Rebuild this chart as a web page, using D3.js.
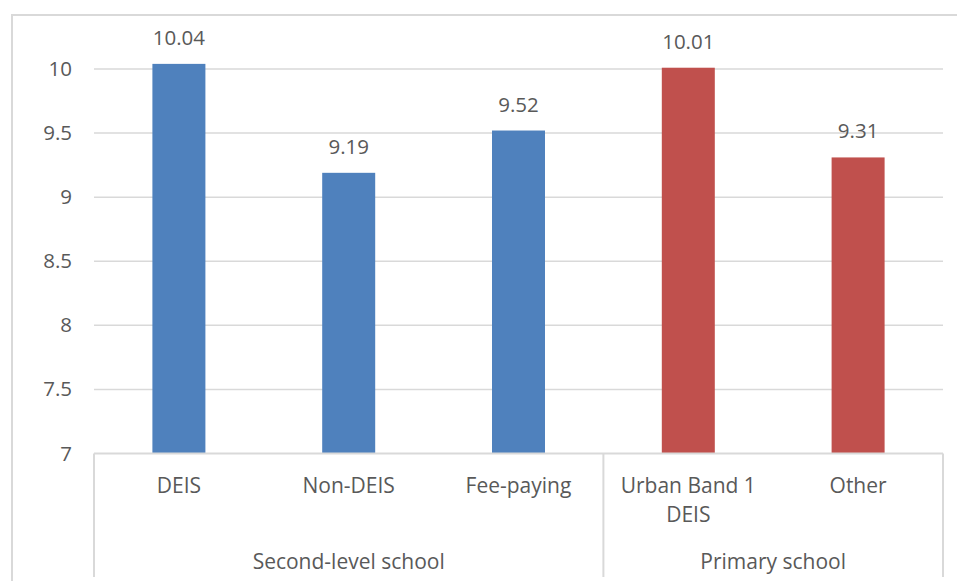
<!DOCTYPE html>
<html>
<head>
<meta charset="utf-8">
<title>School bars</title>
<style>
  body { margin: 0; background: #fff; }
  text { font-family: "Open Sans", sans-serif; fill: #595959; }
</style>
</head>
<body>
<script src="https://cdn.jsdelivr.net/npm/d3@7/dist/d3.min.js"></script>
<script>
// chart values
const categories = ["DEIS", "Non-DEIS", "Fee-paying", "Urban Band 1\nDEIS", "Other"];
const groupOf = ["Second-level school", "Second-level school", "Second-level school", "Primary school", "Primary school"];
const values = [10.04, 9.19, 9.52, 10.01, 9.31];
const groups = ["Second-level school", "Primary school"];
const yTicks = [7, 7.5, 8, 8.5, 9, 9.5, 10];

const w = 957, h = 581;
const colors = {"Second-level school": "#4F81BD", "Primary school": "#C0504D"};

const svg = d3.select("body").append("svg")
  .attr("width", w)
  .attr("height", h);

// chart area border (cropped at right and bottom)
svg.append("path")
  .attr("d", "M12,581 V15 H957")
  .attr("fill", "none")
  .attr("stroke", "#D9D9D9")
  .attr("stroke-width", 2);

const left = 94, right = 943;
const x = d3.scaleBand()
  .domain(d3.range(categories.length))
  .range([left, right])
  .paddingInner(0)
  .paddingOuter(0);

const y = d3.scaleLinear()
  .domain([7, 10])
  .range([453.5, 69]);

// gridlines
svg.append("g")
  .selectAll("line")
  .data(yTicks.slice(1))
  .join("line")
  .attr("x1", left)
  .attr("x2", right)
  .attr("y1", d => y(d))
  .attr("y2", d => y(d))
  .attr("stroke", "#D9D9D9")
  .attr("stroke-width", 1.5);

// y tick labels
const yAxis = d3.axisLeft(y).tickValues(yTicks).tickSize(0).tickPadding(0).tickFormat(d3.format("~g"));
svg.append("g")
  .attr("transform", "translate(72,0)")
  .call(yAxis)
  .call(g => g.select(".domain").remove())
  .selectAll("text")
  .attr("font-size", 20.5)
  .attr("font-family", null)
  .attr("fill", "#595959");

// bars
const barW = 53;
svg.append("g")
  .selectAll("rect")
  .data(values)
  .join("rect")
  .attr("x", (d, i) => x(i) + x.bandwidth() / 2 - barW / 2)
  .attr("width", barW)
  .attr("y", d => y(d))
  .attr("height", d => y(7) - y(d))
  .attr("fill", (d, i) => colors[groupOf[i]]);

// data labels
svg.append("g")
  .selectAll("text")
  .data(values)
  .join("text")
  .attr("x", (d, i) => x(i) + x.bandwidth() / 2)
  .attr("y", d => y(d) - 19)
  .attr("text-anchor", "middle")
  .attr("font-size", 20.5)
  .text(d => d3.format(".2f")(d));

// category axis line + separators
svg.append("line")
  .attr("x1", left).attr("x2", right)
  .attr("y1", y(7)).attr("y2", y(7))
  .attr("stroke", "#D9D9D9").attr("stroke-width", 2);

const sepX = [left, x(3), right];
svg.append("g")
  .selectAll("line")
  .data(sepX)
  .join("line")
  .attr("x1", d => d).attr("x2", d => d)
  .attr("y1", y(7)).attr("y2", 577)
  .attr("stroke", "#D9D9D9").attr("stroke-width", 2);

// category labels
const cat = svg.append("g")
  .selectAll("text")
  .data(categories)
  .join("text")
  .attr("x", (d, i) => x(i) + x.bandwidth() / 2)
  .attr("y", 493)
  .attr("text-anchor", "middle")
  .attr("font-size", 21);
cat.selectAll("tspan")
  .data(d => d.split("\n"))
  .join("tspan")
  .attr("x", function() { return this.parentNode.getAttribute("x"); })
  .attr("dy", (d, i) => i === 0 ? 0 : 29)
  .text(d => d);

// group labels
svg.append("g")
  .selectAll("text")
  .data(groups)
  .join("text")
  .attr("x", g => {
    const idx = d3.range(categories.length).filter(i => groupOf[i] === g);
    return (x(idx[0]) + x(idx[idx.length - 1]) + x.bandwidth()) / 2;
  })
  .attr("y", 569)
  .attr("text-anchor", "middle")
  .attr("font-size", 21)
  .text(d => d);
</script>
</body>
</html>
